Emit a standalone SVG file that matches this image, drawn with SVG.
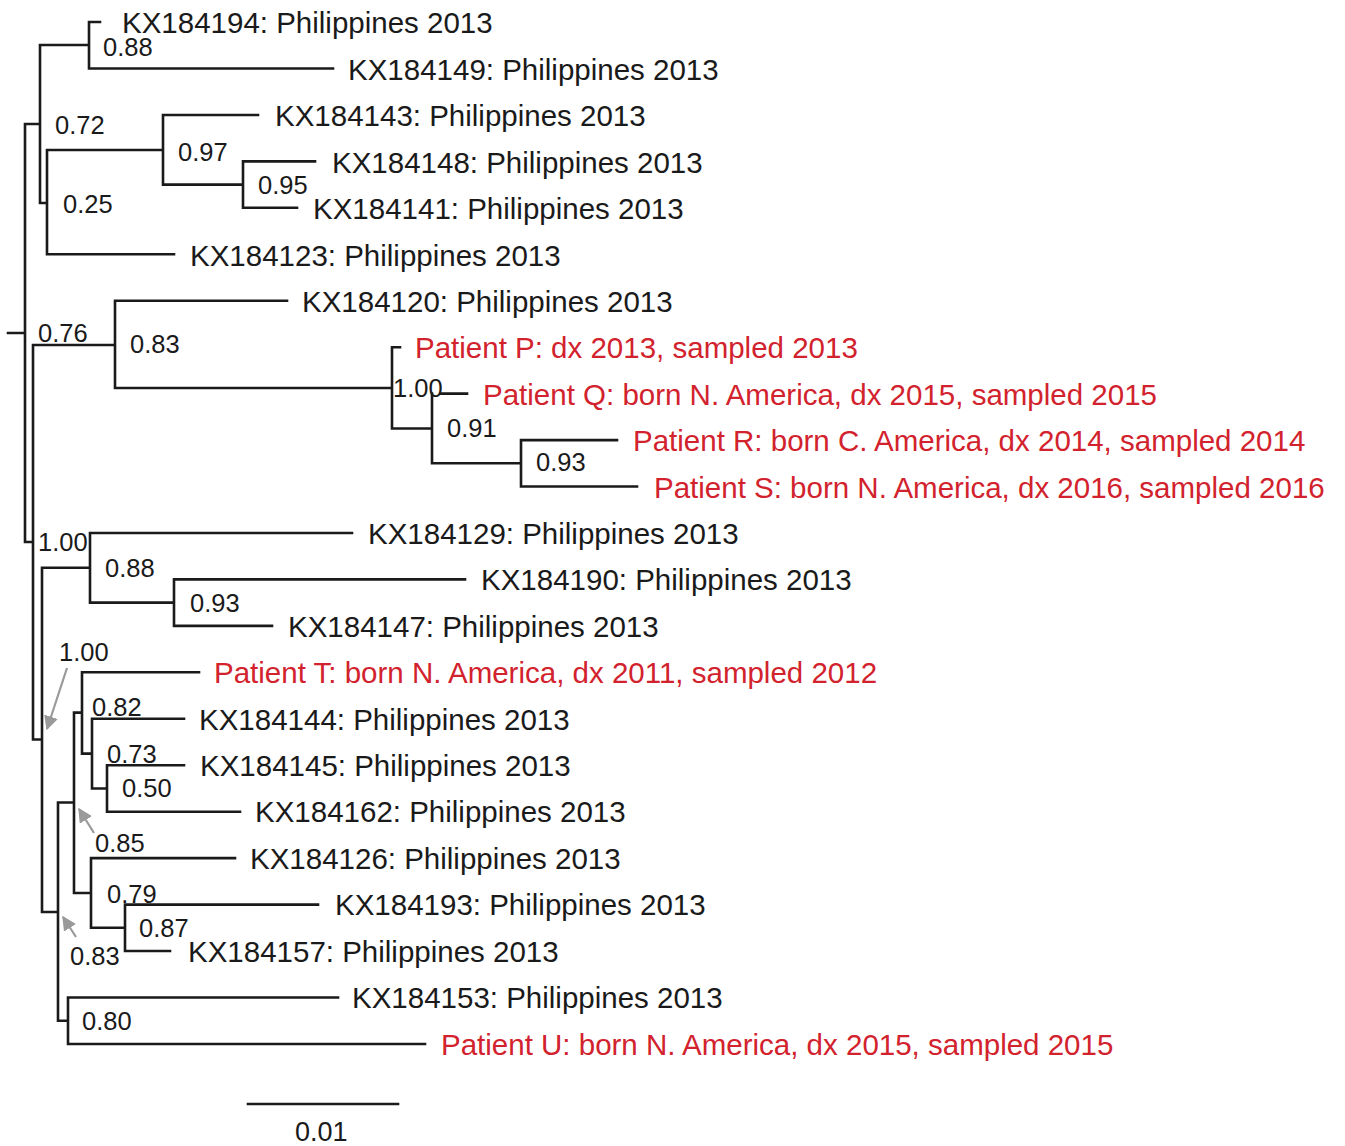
<svg xmlns="http://www.w3.org/2000/svg" width="1345" height="1146" viewBox="0 0 1345 1146">
<defs>
<style>
.lf{font-family:"Liberation Sans",Arial,sans-serif;font-size:29.5px;fill:#1a1a1a}
.rd{fill:#d2222d}
.sp{font-family:"Liberation Sans",Arial,sans-serif;font-size:25.5px;fill:#1a1a1a}
.br{fill:none;stroke:#1a1a1a;stroke-width:2.6;stroke-linecap:square}
.ar{fill:none;stroke:#9a9a9a;stroke-width:2.2}
</style>
<marker id="ah" viewBox="0 0 10 10" refX="9" refY="5" markerWidth="6.5" markerHeight="6.5" orient="auto" markerUnits="strokeWidth">
<path d="M0,0 L10,5 L0,10 z" fill="#9a9a9a"/>
</marker>
</defs>
<rect width="1345" height="1146" fill="#ffffff"/>
<g id="connectors">
<path class="br" d="M8 333 H25 M25 124 V542
M25 124 H40 M40 45 V203
M40 45 H89 M89 22 V68.5 M89 22 H100 M89 68.5 H333
M40 203 H47 M47 150 V254.3 M47 254.3 H174
M47 150 H163 M163 115 V184.6 M163 115 H258
M163 184.6 H243 M243 161.4 V207.8 M243 161.4 H315 M243 207.8 H297
M25 542 H33 M33 345 V739.5
M33 345 H115 M115 300.7 V388 M115 300.7 H287
M115 388 H392 M392 347.2 V428.5 M392 347.2 H400
M392 428.5 H432 M432 393.6 V463.3 M441 393.6 H467
M432 463.3 H521 M521 440.1 V486.5 M521 440.1 H617 M521 486.5 H637
M33 739.5 H42 M42 567.8 V912
M42 567.8 H90 M90 533 V602.6 M90 533 H352
M90 602.6 H174 M174 579.4 V625.9 M174 579.4 H465 M174 625.9 H272
M42 912 H58 M58 802.5 V1020.7
M58 802.5 H74 M74 712.6 V893
M74 712.6 H82 M82 672.3 V753.6 M82 672.3 H199
M82 753.6 H92 M92 718.8 V788.5 M92 718.8 H184
M92 788.5 H107 M107 765.2 V811.7 M107 765.2 H184 M107 811.7 H240
M74 893 H91 M91 858.1 V927.8 M91 858.1 H235
M91 927.8 H125 M125 904.6 V951 M125 904.6 H318 M125 951 H170
M58 1020.7 H68 M68 997.5 V1044 M68 997.5 H338 M68 1044 H425"/>
<line class="ar" x1="67" y1="668" x2="47" y2="729" marker-end="url(#ah)"/>
<line class="ar" x1="94" y1="833" x2="79" y2="809" marker-end="url(#ah)"/>
<line class="ar" x1="76" y1="937" x2="63" y2="917" marker-end="url(#ah)"/>
<path class="br" d="M248 1104 H398"/>
</g>
<g id="leaf-KX184194"><text class="lf" x="122" y="33">KX184194: Philippines 2013</text></g>
<g id="leaf-KX184149"><text class="lf" x="348" y="80">KX184149: Philippines 2013</text></g>
<g id="leaf-KX184143"><text class="lf" x="275" y="126">KX184143: Philippines 2013</text></g>
<g id="leaf-KX184148"><text class="lf" x="332" y="173">KX184148: Philippines 2013</text></g>
<g id="leaf-KX184141"><text class="lf" x="313" y="219">KX184141: Philippines 2013</text></g>
<g id="leaf-KX184123"><text class="lf" x="190" y="266">KX184123: Philippines 2013</text></g>
<g id="leaf-KX184120"><text class="lf" x="302" y="312">KX184120: Philippines 2013</text></g>
<g id="leaf-PatientP"><text class="lf rd" x="415" y="358">Patient P: dx 2013, sampled 2013</text></g>
<g id="leaf-PatientQ"><text class="lf rd" x="483" y="405">Patient Q: born N. America, dx 2015, sampled 2015</text></g>
<g id="leaf-PatientR"><text class="lf rd" x="633" y="451">Patient R: born C. America, dx 2014, sampled 2014</text></g>
<g id="leaf-PatientS"><text class="lf rd" x="654" y="498">Patient S: born N. America, dx 2016, sampled 2016</text></g>
<g id="leaf-KX184129"><text class="lf" x="368" y="544">KX184129: Philippines 2013</text></g>
<g id="leaf-KX184190"><text class="lf" x="481" y="590">KX184190: Philippines 2013</text></g>
<g id="leaf-KX184147"><text class="lf" x="288" y="637">KX184147: Philippines 2013</text></g>
<g id="leaf-PatientT"><text class="lf rd" x="214" y="683">Patient T: born N. America, dx 2011, sampled 2012</text></g>
<g id="leaf-KX184144"><text class="lf" x="199" y="730">KX184144: Philippines 2013</text></g>
<g id="leaf-KX184145"><text class="lf" x="200" y="776">KX184145: Philippines 2013</text></g>
<g id="leaf-KX184162"><text class="lf" x="255" y="822">KX184162: Philippines 2013</text></g>
<g id="leaf-KX184126"><text class="lf" x="250" y="869">KX184126: Philippines 2013</text></g>
<g id="leaf-KX184193"><text class="lf" x="335" y="915">KX184193: Philippines 2013</text></g>
<g id="leaf-KX184157"><text class="lf" x="188" y="962">KX184157: Philippines 2013</text></g>
<g id="leaf-KX184153"><text class="lf" x="352" y="1008">KX184153: Philippines 2013</text></g>
<g id="leaf-PatientU"><text class="lf rd" x="441" y="1055">Patient U: born N. America, dx 2015, sampled 2015</text></g>
<g id="support-values">
<text class="sp" x="103" y="56">0.88</text>
<text class="sp" x="55" y="134">0.72</text>
<text class="sp" x="178" y="161">0.97</text>
<text class="sp" x="258" y="194">0.95</text>
<text class="sp" x="63" y="213">0.25</text>
<text class="sp" x="38" y="342">0.76</text>
<text class="sp" x="130" y="353">0.83</text>
<text class="sp" x="393" y="397">1.00</text>
<text class="sp" x="447" y="437">0.91</text>
<text class="sp" x="536" y="471">0.93</text>
<text class="sp" x="38" y="551">1.00</text>
<text class="sp" x="105" y="577">0.88</text>
<text class="sp" x="190" y="612">0.93</text>
<text class="sp" x="59" y="661">1.00</text>
<text class="sp" x="92" y="716">0.82</text>
<text class="sp" x="107" y="763">0.73</text>
<text class="sp" x="122" y="797">0.50</text>
<text class="sp" x="95" y="852">0.85</text>
<text class="sp" x="107" y="903">0.79</text>
<text class="sp" x="139" y="937">0.87</text>
<text class="sp" x="70" y="965">0.83</text>
<text class="sp" x="82" y="1030">0.80</text>
</g>
<g id="scale-bar"><text class="sp" x="295" y="1141" style="font-size:27px">0.01</text></g>
</svg>
